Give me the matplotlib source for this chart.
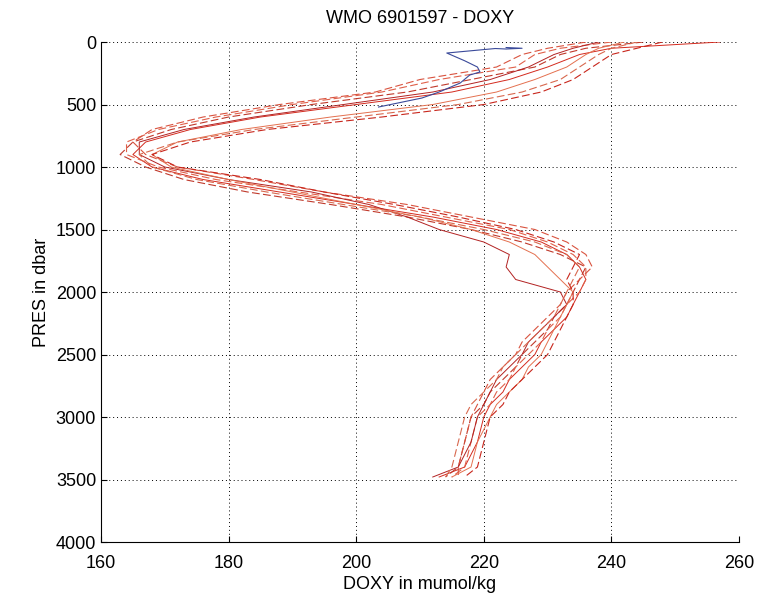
import matplotlib
matplotlib.use('Agg')
import matplotlib.pyplot as plt

plt.rcParams.update({
    'font.family': ['Liberation Sans', 'DejaVu Sans'], 'font.size': 13,
})

# pressure levels (dbar) shared by the red profiles
PRES = [0, 50, 100, 200, 300, 400, 500, 600, 700, 800, 900, 1000, 1100, 1200,
        1300, 1400, 1500, 1600, 1700, 1800, 1900, 2000, 2100, 2200, 2300, 2400,
        2500, 2600, 2700, 2800, 2900, 3000, 3200, 3400, 3480]

# DOXY (mumol/kg) per profile
doxy_1 = [257, 240, 235, 230, 224, 215, 200, 185, 174, 167, 165, 168, 176, 188,
          200, 212, 222, 229, 233, 235, 236, 235, 234, 233, 231, 229, 228, 226,
          224, 223, 221, 220, 219, 217, 213]
doxy_2 = [245, 236, 232, 228, 218, 208, 193, 180, 171, 165, 163, 167, 173, 183,
          196, 208, 218, 226, 232, 236, 235, 234, 233, 231, 230, 228, 226, 225,
          223, 221, 220, 218, 217, 216, 214]
doxy_3 = [240, 232, 228, 225, 213, 204, 190, 178, 169, 164, 164, 169, 178, 191,
          204, 214, 224, 230, 234, 236, 236, 235, 233, 232, 230, 229, 227, 225,
          224, 222, 221, 219, 218, 217, 215]
doxy_4 = [238, 234, 231, 227, 221, 212, 198, 184, 173, 166, 166, 170, 180, 193,
          202, 208, 213, 220, 224, 223.5, 225, 232, 233, 231, 229, 227, 226, 224,
          222, 221, 220, 219, 218, 216, 212]
doxy_5 = [236, 230, 226, 222, 210, 203, 188, 176, 168, 165, 167, 172, 184, 195,
          208, 218, 228, 233, 236, 237, 235, 233, 232, 230, 228, 226, 225, 223,
          221, 220, 219, 218, 217, 216, 216]
doxy_6 = [242, 238, 236, 233, 228, 222, 212, 196, 182, 172, 168, 171, 180, 190,
          200, 210, 218, 224, 228, 230, 232, 234, 233, 232, 231, 230, 229, 227,
          226, 224, 222, 221, 219, 218, 215]
doxy_7 = [248, 244, 240, 237, 234, 229, 220, 204, 186, 174, 168, 172, 185, 195,
          206, 216, 225, 231, 235, 234, 233, 234, 234, 233, 232, 231, 230, 228,
          226, 224, 223, 221, 220, 219, 217]
doxy_8 = [244, 240, 238, 235, 232, 226, 216, 200, 184, 172, 166, 168, 175, 186,
          198, 210, 220, 228, 233, 235, 234, 233, 232, 231, 229, 227, 225, 223,
          222, 220, 218, 217, 216, 215, 214]

# short blue profile near the surface
blue_pres = [44, 50, 56, 52, 88, 150, 200, 240, 264, 328, 400, 448, 520]
blue_doxy = [223.5, 226, 223.5, 221.8, 214.2, 217, 219, 219.4, 217.8, 216.3,
             213, 210.3, 203.5]

profiles = [
    (doxy_1, '-', '#d42a1e'),
    (doxy_2, '--', '#c0392b'),
    (doxy_3, '--', '#e0604a'),
    (doxy_4, '-', '#b22222'),
    (doxy_5, '--', '#d9533f'),
    (doxy_6, '-', '#e4704f'),
    (doxy_7, '--', '#c8261c'),
    (doxy_8, '--', '#d8684e'),
]

fig = plt.figure(figsize=(7.71, 5.96), dpi=100)
ax = fig.add_axes([0.131, 0.0906, 0.8275, 0.8389])

for vals, ls, c in profiles:
    if ls == '--':
        ax.plot(vals, PRES, color=c, lw=0.8, dashes=(7, 3))
    else:
        ax.plot(vals, PRES, '-', color=c, lw=0.7)
ax.plot(blue_doxy, blue_pres, '-', color='#3a4a9a', lw=0.8)

ax.set_xlim(160, 260)
ax.set_ylim(4000, 0)
ax.set_xticks([160, 180, 200, 220, 240, 260])
ax.set_yticks([0, 500, 1000, 1500, 2000, 2500, 3000, 3500, 4000])
ax.grid(True, linestyle=(0, (1, 3)), color='black', lw=0.7)
for s in ('top', 'right'):
    ax.spines[s].set_visible(False)
ax.tick_params(direction='in', length=4)
ax.tick_params(axis='x', pad=9)
ax.set_xlabel('DOXY in mumol/kg', labelpad=3)
ax.set_ylabel('PRES in dbar')
ax.set_title('WMO 6901597 - DOXY', fontsize=13, pad=14)

fig.savefig('out.png', dpi=100)
